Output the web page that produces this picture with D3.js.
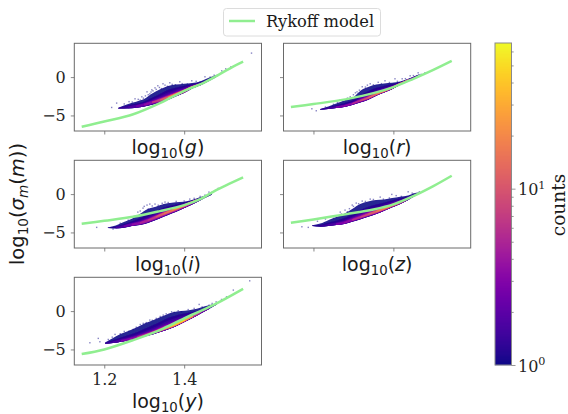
<!DOCTYPE html>
<html><head><meta charset="utf-8">
<script src="https://cdn.jsdelivr.net/npm/d3@7/dist/d3.min.js"></script>
<style>html,body{margin:0;padding:0;background:#fff}svg{display:block}</style>
</head><body><svg id="c" width="568" height="414"></svg>
<script>
// ---- values ----
const xTicks = [1.2, 1.4];
const yTicks = [0, -5];
const xDomain = [1.125, 1.5935];
const yDomain = [-7.03, 4.41];
const countDomain = [1, 67];
const colorbarMajor = [1, 10];
const colorbarMinor = [2,3,4,5,6,7,8,9,20,30,40,50,60];
const legendLabel = "Rykoff model";
const colorbarLabel = "counts";

const gModelX = [1.1435,1.2,1.2725,1.339,1.364,1.406,1.4475,1.489,1.5225,1.5475];
const gModelY = [-6.48,-5.8,-4.85,-3.4,-2.74,-1.66,-0.78,0.39,1.38,2.03];
const gX = [1.235,1.26,1.28,1.30,1.32,1.34,1.36,1.38,1.40,1.42,1.44,1.46,1.48,1.492];
const gTop = [-4.0,-3.5,-3.2,-2.87,-2.15,-1.6,-1.15,-0.98,-0.87,-0.78,-0.57,-0.13,0.26,0.55];
const gBottom = [-4.1,-4.08,-4.0,-3.85,-3.6,-3.3,-2.95,-2.5,-2.06,-1.5,-1.08,-0.55,0,0.5];
const gRidge = [-4.05,-3.9,-3.78,-3.55,-3.25,-2.95,-2.62,-2.2,-1.78,-1.25,-0.9,-0.42,0.06,0.52];
const gPeak = [1.5,2,2.5,4,7,13,28,50,67,67,35,10,3,1.2];
const gSpeckX = [1.5685,1.2185,1.231,1.319,1.314,1.327,1.334,1.347,1.364,1.389,1.419,1.452,1.494,1.504,1.517,1.277,1.294,1.307,1.25,1.262,1.27,1.285,1.29,1.298,1.303,1.31,1.317,1.322,1.33,1.338,1.343,1.352,1.358,1.37,1.378,1.395,1.408,1.43,1.44,1.465,1.475];
const gSpeckY = [3.13,-3.96,-3.39,-1.66,-2.18,-1.40,-1.13,-0.87,-0.74,-0.61,-0.48,0.04,0.82,1.08,1.34,-2.83,-2.57,-1.92,-3.5,-3.2,-3.25,-2.9,-3.0,-2.75,-2.45,-2.3,-1.95,-1.8,-1.6,-1.35,-1.5,-1.05,-1.2,-0.95,-1.0,-0.85,-0.9,-0.55,-0.6,0.0,0.25];

const rModelX = [1.1435,1.2,1.2835,1.35,1.40,1.45,1.50,1.546];
const rModelY = [-3.91,-3.52,-2.87,-2.09,-1.30,-0.22,0.95,2.12];
const rX = [1.217,1.237,1.257,1.277,1.297,1.317,1.337,1.357,1.377,1.397,1.417,1.437,1.457,1.47];
const rTop = [-4.15,-3.85,-3.45,-3.05,-2.74,-1.8,-1.3,-0.98,-0.82,-0.74,-0.57,-0.22,0.21,0.43];
const rBottom = [-4.26,-4.17,-4.04,-3.91,-3.65,-3.31,-2.96,-2.44,-2.01,-1.57,-1.0,-0.44,0.08,0.43];
const rRidge = [-4.2,-4.08,-3.92,-3.75,-3.45,-3.05,-2.68,-2.2,-1.78,-1.33,-0.8,-0.32,0.13,0.43];
const rPeak = [1.5,2,3,4,6,10,16,25,35,45,35,12,3,1.2];
const rSpeckX = [1.404,1.196,1.309,1.322,1.342,1.362,1.379,1.422,1.442,1.462,1.479,1.267,1.292,1.207,1.23,1.25,1.26,1.285,1.30,1.305,1.315,1.33,1.335,1.35,1.37,1.39,1.41,1.43,1.45,1.47];
const rSpeckY = [-0.22,-4.13,-1.92,-1.26,-0.87,-0.68,-0.48,-0.22,0.17,0.56,0.56,-2.96,-2.57,-4.39,-3.9,-3.55,-3.3,-2.75,-2.3,-2.05,-1.7,-1.3,-1.05,-1.0,-0.85,-0.7,-0.55,-0.2,0.2,0.35];

const iModelX = [1.1435,1.2,1.2725,1.339,1.40,1.44,1.4725,1.506,1.5475];
const iModelY = [-3.87,-3.48,-2.96,-2.22,-1.43,-0.65,0.3,1.17,2.18];
const iX = [1.209,1.229,1.249,1.269,1.289,1.309,1.329,1.349,1.369,1.389,1.409,1.429,1.449,1.469];
const iTop = [-4.35,-4.1,-3.65,-3.2,-2.6,-1.95,-1.65,-1.30,-1.13,-1.04,-0.89,-0.61,-0.26,0.05];
const iBottom = [-4.43,-4.47,-4.39,-4.17,-4.04,-3.78,-3.39,-2.95,-2.52,-2.09,-1.63,-1.13,-0.57,-0.07];
const iRidge = [-4.38,-4.35,-4.2,-3.95,-3.75,-3.4,-2.95,-2.5,-2.1,-1.65,-1.2,-0.75,-0.35,-0.03];
const iPeak = [1.3,1.8,2.5,3.5,5,8,12,18,25,35,40,18,4,1.2];
const iSpeckX = [1.181,1.485,1.297,1.307,1.314,1.327,1.352,1.414,1.452,1.462,1.284,1.222,1.24,1.26,1.275,1.29,1.30,1.31,1.32,1.335,1.345,1.36,1.38,1.40,1.425,1.44,1.47];
const iSpeckY = [-4.34,0.74,-1.83,-1.43,-1.30,-1.3,-1.04,-0.65,-0.13,0.26,-2.35,-4.56,-3.8,-3.4,-2.9,-2.2,-1.6,-1.95,-1.55,-1.45,-1.2,-1.1,-0.95,-0.9,-0.55,-0.3,0.25];

const zModelX = [1.1435,1.2,1.2835,1.35,1.40,1.45,1.50,1.546];
const zModelY = [-3.74,-3.3,-2.61,-2.0,-1.34,-0.26,1.04,2.39];
const zX = [1.197,1.217,1.237,1.257,1.277,1.297,1.317,1.337,1.357,1.377,1.397,1.417,1.437,1.457,1.47];
const zTop = [-4.05,-3.85,-3.4,-3.0,-2.55,-1.95,-1.3,-0.95,-0.78,-0.69,-0.52,-0.35,-0.17,0.17,0.2];
const zBottom = [-4.17,-4.26,-4.17,-4.04,-3.91,-3.61,-3.30,-2.96,-2.61,-2.18,-1.73,-1.30,-0.78,-0.13,0.13];
const zRidge = [-4.1,-4.2,-4.1,-3.95,-3.75,-3.35,-3.0,-2.62,-2.25,-1.85,-1.4,-1.0,-0.5,-0.05,0.14];
const zPeak = [1.2,1.5,2,3,4,6,9,13,20,28,38,40,15,3,1.2];
const zSpeckX = [1.171,1.187,1.396,1.437,1.297,1.307,1.322,1.342,1.367,1.407,1.447,1.279,1.267,1.21,1.23,1.25,1.27,1.285,1.29,1.30,1.313,1.33,1.35,1.375,1.39,1.42,1.45,1.465];
const zSpeckY = [-4.26,-4.34,-0.04,0.30,-1.43,-1.17,-0.91,-0.65,-0.39,-0.2,0.13,-2.09,-2.35,-3.55,-3.25,-2.95,-2.6,-2.3,-1.9,-1.6,-1.25,-0.95,-0.7,-0.65,-0.5,-0.3,0.0,0.3];

const yModelX = [1.1435,1.2,1.2725,1.339,1.40,1.4725,1.5475];
const yModelY = [-5.6,-5.0,-3.78,-2.48,-0.95,0.78,2.91];
const yX = [1.202,1.222,1.242,1.262,1.282,1.302,1.322,1.342,1.362,1.382,1.402,1.422,1.442,1.462,1.482];
const yTop = [-4.1,-3.5,-2.95,-2.55,-2.1,-1.6,-1.2,-0.75,-0.3,-0.05,0.05,0.2,0.48,0.78,0.95];
const yBottom = [-4.26,-4.17,-4.0,-3.82,-3.56,-3.30,-3.04,-2.70,-2.35,-1.92,-1.40,-0.87,-0.30,0.26,0.87];
const yRidge = [-4.2,-4.1,-3.92,-3.7,-3.4,-3.1,-2.8,-2.42,-2.05,-1.62,-1.12,-0.65,-0.15,0.32,0.9];
const yPeak = [1.5,2,3,4,6,10,18,32,50,67,67,30,8,3,1.2];
const ySpeckX = [1.564,1.523,1.164,1.185,1.189,1.227,1.2725,1.2975,1.314,1.3475,1.3685,1.3935,1.4375,1.4625,1.4935,1.506,1.21,1.22,1.24,1.25,1.262,1.28,1.29,1.305,1.32,1.33,1.34,1.355,1.375,1.385,1.41,1.425,1.445,1.47,1.48];
const ySpeckY = [3.95,2.74,-4.13,-3.56,-4.0,-3.04,-2.39,-1.6,-1.17,-0.52,-0.09,-0.09,0.87,0.78,1.52,1.86,-3.7,-3.4,-2.95,-2.65,-2.6,-2.1,-1.75,-1.5,-1.2,-0.95,-0.7,-0.35,-0.15,0.05,0.2,0.35,0.55,1.0,1.2];

// ---- layout ----
const colX = [74.3, 283.5], rowY = [43.3, 160.3, 277.3];
const pw = 187.2, ph = 87.7;
const panels = [
  {name:"g", c:0, r:0, mx:gModelX, my:gModelY, x:gX, top:gTop, bottom:gBottom, ridge:gRidge, peak:gPeak, sx:gSpeckX, sy:gSpeckY},
  {name:"r", c:1, r:0, mx:rModelX, my:rModelY, x:rX, top:rTop, bottom:rBottom, ridge:rRidge, peak:rPeak, sx:rSpeckX, sy:rSpeckY},
  {name:"i", c:0, r:1, mx:iModelX, my:iModelY, x:iX, top:iTop, bottom:iBottom, ridge:iRidge, peak:iPeak, sx:iSpeckX, sy:iSpeckY},
  {name:"z", c:1, r:1, mx:zModelX, my:zModelY, x:zX, top:zTop, bottom:zBottom, ridge:zRidge, peak:zPeak, sx:zSpeckX, sy:zSpeckY},
  {name:"y", c:0, r:2, mx:yModelX, my:yModelY, x:yX, top:yTop, bottom:yBottom, ridge:yRidge, peak:yPeak, sx:ySpeckX, sy:ySpeckY}
];
const SERIF = "'DejaVu Serif'", SANS = "'DejaVu Sans'";
const spine = "#6a6a6a";
const modelColor = "#90ee90";

const svg = d3.select("#c");
svg.append("defs").append("filter").attr("id","soft")
  .attr("x","-5%").attr("y","-20%").attr("width","110%").attr("height","140%")
  .append("feGaussianBlur").attr("stdDeviation",0.4);

const colorLog = d3.scaleLog().domain(countDomain).range([0,1]);
const color = c => d3.interpolatePlasma(colorLog(c));
const levels = d3.range(0,24).map(k => Math.pow(67, k/24));

function mathLabel(sel, parts){
  parts.forEach(p=>{
    sel.append("tspan").text(p.t)
      .attr("font-style", p.i ? "italic" : null)
      .attr("font-size", p.sub ? "70%" : null)
      .attr("dy", p.dy || 0);
  });
}

panels.forEach(p=>{
  const x0 = colX[p.c], y0 = rowY[p.r];
  const g = svg.append("g").attr("transform",`translate(${x0},${y0})`);
  const x = d3.scaleLinear().domain(xDomain).range([0,pw]);
  const y = d3.scaleLinear().domain(yDomain).range([ph,0]);

  const dens = g.append("g").attr("filter","url(#soft)");
  levels.forEach((L,k)=>{
    const t = i => Math.log(L)/Math.log(Math.max(p.peak[i],8));
    const up = i => 0.75*Math.exp(-12*t(i)) + 0.25*(1-t(i));
    const lo = i => Math.pow(1-t(i),0.6);
    const area = d3.area()
      .defined(i => p.peak[i] >= L)
      .x(i => x(p.x[i]))
      .y0(i => y(p.ridge[i] - (p.ridge[i]-p.bottom[i])*lo(i)))
      .y1(i => y(p.ridge[i] + (p.top[i]-p.ridge[i])*up(i)))
      .curve(d3.curveMonotoneX);
    dens.append("path").attr("d", area(d3.range(p.x.length)))
      .attr("fill", color(L)).attr("fill-opacity", k===0 ? 0.9 : 1);
  });
  g.append("g").selectAll("rect").data(p.sx).join("rect")
    .attr("x",(d)=>x(d)-0.7).attr("y",(d,i)=>y(p.sy[i])-0.7)
    .attr("width",1.4).attr("height",1.4)
    .attr("fill","#0d0887").attr("fill-opacity",0.5);

  const line = d3.line().x(i=>x(p.mx[i])).y(i=>y(p.my[i])).curve(d3.curveCatmullRom.alpha(0.5));
  g.append("path").attr("d", line(d3.range(p.mx.length)))
    .attr("fill","none").attr("stroke",modelColor).attr("stroke-width",2.5);

  const xa = d3.axisBottom(x).tickValues(xTicks).tickSize(3.5).tickPadding(5).tickFormat(p.r===2 ? d3.format(".1f") : "");
  const ya = d3.axisLeft(y).tickValues(yTicks).tickSize(3.5).tickPadding(5).tickFormat(p.c===0 ? d3.format("d") : "");
  const gx = g.append("g").attr("transform",`translate(0,${ph})`).call(xa);
  const gy = g.append("g").call(ya);
  [gx,gy].forEach(a=>{
    a.select(".domain").remove();
    a.selectAll("line").attr("stroke",spine).attr("stroke-width",0.8);
    a.selectAll("text").attr("font-family",SERIF).attr("font-size",16).attr("fill","#262626");
  });
  g.append("rect").attr("width",pw).attr("height",ph).attr("fill","none").attr("stroke",spine).attr("stroke-width",1);

  const lab = svg.append("text").attr("x",x0+pw/2).attr("y",y0+ph+(p.r===2?43:23))
    .attr("text-anchor","middle").attr("font-family",SANS).attr("font-size",19).attr("fill","#1a1a1a");
  mathLabel(lab,[{t:"log"},{t:"10",sub:1,dy:4},{t:"(",dy:-4},{t:p.name,i:1},{t:")"}]);
});

// shared y label
const yl = svg.append("text").attr("transform","translate(24,204) rotate(-90)")
  .attr("text-anchor","middle").attr("font-family",SANS).attr("font-size",19.5).attr("fill","#1a1a1a");
mathLabel(yl,[{t:"log"},{t:"10",sub:1,dy:4},{t:"(",dy:-4},{t:"σ",i:1},{t:"m",i:1,sub:1,dy:4},{t:"(",dy:-4},{t:"m",i:1},{t:"))"}]);

// legend
const leg = svg.append("g");
leg.append("rect").attr("x",223.5).attr("y",8.5).attr("width",157).attr("height",27.5).attr("rx",3)
  .attr("fill","#fff").attr("stroke","#dcdcdc").attr("stroke-width",1);
leg.append("line").attr("x1",229).attr("x2",255).attr("y1",21).attr("y2",21).attr("stroke",modelColor).attr("stroke-width",2.5);
leg.append("text").attr("x",266).attr("y",27).attr("font-family",SERIF).attr("font-size",16.3).attr("fill","#1a1a1a").text(legendLabel);

// colorbar
const cbX = 495, cbW = 16.5, cbTop = 43, cbBottom = 365;
const cy = d3.scaleLog().domain(countDomain).range([cbBottom,cbTop]);
const cb = svg.append("g");
const steps = d3.range(0,cbBottom-cbTop);
cb.selectAll("rect").data(steps).join("rect")
  .attr("x",cbX).attr("width",cbW).attr("y",d=>cbTop+d).attr("height",1.2)
  .attr("fill",d=>d3.interpolatePlasma(1-(d+0.5)/(cbBottom-cbTop)));
cb.append("rect").attr("x",cbX).attr("y",cbTop).attr("width",cbW).attr("height",cbBottom-cbTop)
  .attr("fill","none").attr("stroke","#8a8a8a").attr("stroke-width",1);
const ax = d3.axisRight(cy).tickValues(colorbarMajor).tickSize(4).tickPadding(3).tickFormat("");
const axm = d3.axisRight(cy).tickValues(colorbarMinor).tickSize(2.2).tickFormat("");
[ax,axm].forEach(a=>{
  const s = svg.append("g").attr("transform",`translate(${cbX+cbW},0)`).call(a);
  s.select(".domain").remove();
  s.selectAll("line").attr("stroke",spine).attr("stroke-width",0.7);
});
colorbarMajor.forEach((v,i)=>{
  const t = svg.append("text").attr("x",518).attr("y",cy(v)+6.5).attr("font-family",SERIF).attr("font-size",16).attr("fill","#262626");
  t.append("tspan").text("10");
  t.append("tspan").text(String(i)).attr("font-size","70%").attr("dy",-6.5);
});
svg.append("text").attr("transform","translate(560,205) rotate(-90)").attr("text-anchor","middle")
  .attr("dominant-baseline","middle").attr("font-family",SERIF).attr("font-size",18.5).attr("fill","#1a1a1a").text(colorbarLabel);
</script>
</body></html>
